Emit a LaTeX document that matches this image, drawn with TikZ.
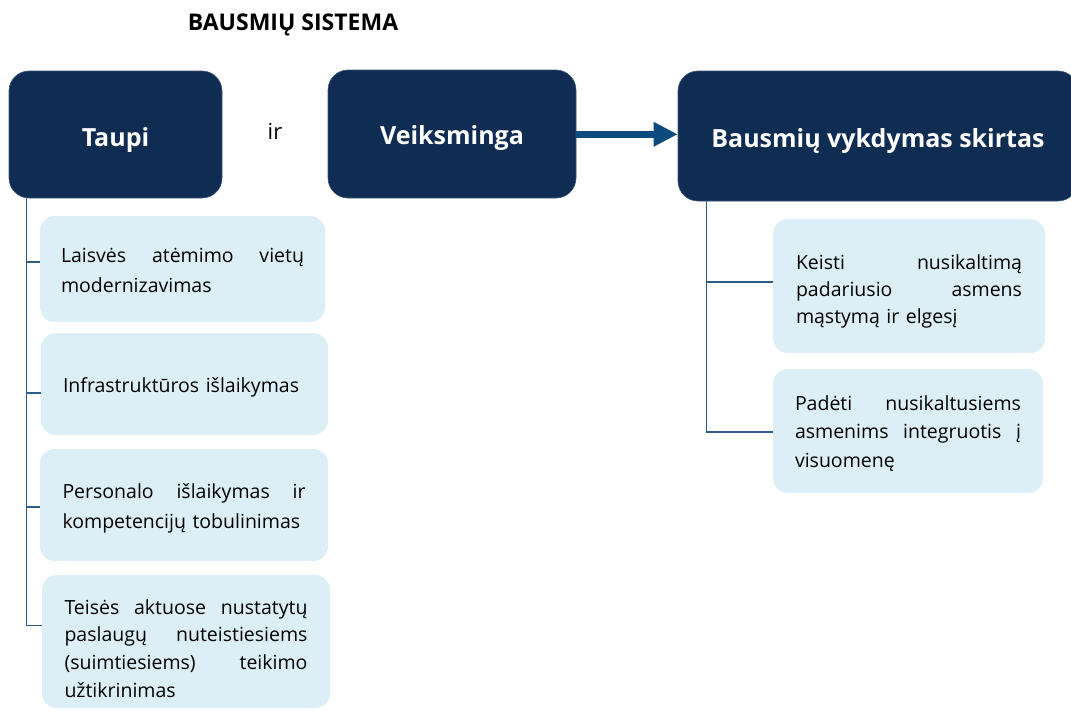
\documentclass[tikz,border=0pt]{standalone}
\usepackage{fontspec}
\setmainfont{Open Sans}
\usetikzlibrary{arrows.meta}
\definecolor{navy}{HTML}{0F2C52}
\definecolor{lightbox}{HTML}{DCEFF7}
\definecolor{arrowblue}{HTML}{0D4B7E}
\definecolor{treeblue}{HTML}{2B5C8C}
\newcommand{\jl}[2]{\leavevmode\hbox to #1{#2}}
\newcommand{\lowered}[2]{\raisebox{#1}[0pt][0pt]{#2}}
\tikzset{
  darkbox/.style={fill=navy, draw=navy!80!white, line width=0.6pt, rounded corners=20pt, text=white,
    font=\fontsize{25}{28}\selectfont\bfseries, align=center, inner sep=0pt},
  lbox/.style={fill=lightbox, draw=none, rounded corners=15pt, inner sep=0pt},
  ltext/.style={text=black, font=\fontsize{19.5}{#1}\selectfont, align=left, inner sep=0pt},
  ltext/.default=29,
  tree/.style={draw=treeblue, line width=1.3pt},
  bigarrow/.style={draw=arrowblue, line width=7.5pt, -{Triangle[length=24pt,width=23pt]}}
}
\begin{document}
\begin{tikzpicture}[x=1pt,y=-1pt]
\useasboundingbox (0,0) rectangle (1071,710);
\node[font=\fontsize{23}{26}\selectfont\bfseries, anchor=base, inner sep=0pt] (title) at (293,30) {BAUSMIŲ SISTEMA};
% dark boxes
\node[darkbox, minimum width=213pt, minimum height=127pt] (taupi) at (115.5,134.5) {\lowered{-11.5pt}{Taupi}};
\node[font=\fontsize{22}{26}\selectfont] (ir) at (275,131) {ir};
\node[darkbox, minimum width=248pt, minimum height=128pt] (veiks) at (452,134) {\lowered{-10pt}{Veiksminga}};
\node[darkbox, minimum width=400pt, minimum height=130pt] (baus) at (878,136) {\lowered{-11pt}{Bausmių vykdymas skirtas}};
% arrow
\draw[bigarrow] ([yshift=-0.3pt]veiks.east) -- ([yshift=-0.3pt]veiks.east -| baus.west);
% left boxes
\node[lbox, minimum width=285pt, minimum height=106pt] (l1) at (182.5,269) {};
\node[ltext=30, text width=243pt] (l1t) at ([yshift=-1pt]l1.center)
  {\jl{243pt}{Laisvės\hfill atėmimo\hfill vietų}\\modernizavimas};
\node[lbox, minimum width=287pt, minimum height=102pt] (l2) at (184.5,384) {};
\node[ltext, text width=243pt] (l2t) at ([yshift=-3pt]l2.center)
  {Infrastruktūros išlaikymas};
\node[lbox, minimum width=288pt, minimum height=112pt] (l3) at (184,505) {};
\node[ltext=30, text width=243pt] (l3t) at ([yshift=-3.5pt]l3.center)
  {\jl{243pt}{Personalo\hfill išlaikymas\hfill ir}\\kompetencijų tobulinimas};
\node[lbox, minimum width=288pt, minimum height=133pt] (l4) at (186,641.5) {};
\node[ltext=27.8, text width=243pt] (l4t) at ([yshift=-7pt]l4.center)
  {\jl{243pt}{Teisės\hfill aktuose\hfill nustatytų}\\\jl{243pt}{paslaugų\hfill nuteistiesiems}\\\jl{243pt}{(suimtiesiems)\hfill teikimo}\\užtikrinimas};
% right boxes
\node[lbox, minimum width=272pt, minimum height=134pt] (r1) at (909,286) {};
\node[ltext=27, text width=226pt] (r1t) at ([yshift=-5pt]r1.center)
  {\jl{226pt}{Keisti\hfill nusikaltimą}\\\jl{226pt}{padariusio\hfill asmens}\\mąstymą ir elgesį};
\node[lbox, minimum width=270pt, minimum height=124pt] (r2) at (908,431) {};
\node[ltext=28.5, text width=226pt] (r2t) at ([yshift=-2.5pt]r2.center)
  {\jl{226pt}{Padėti\hfill nusikaltusiems}\\\jl{226pt}{asmenims\hfill integruotis\hfill į}\\visuomenę};
% trees
\coordinate (lt) at ([xshift=18pt]taupi.south west);
\draw[tree] (lt) |- ([yshift=7pt]l1.west);
\draw[tree] (lt) |- ([yshift=-9pt]l2.west);
\draw[tree] (lt) |- ([yshift=-2pt]l3.west);
\draw[tree] (lt) |- ([yshift=16pt]l4.west);
\coordinate (rt) at ([xshift=29pt]baus.south west);
\draw[tree] (rt) |- ([yshift=4pt]r1.west);
\draw[tree] (rt) |- ([yshift=-1pt]r2.west);
\end{tikzpicture}
\end{document}
